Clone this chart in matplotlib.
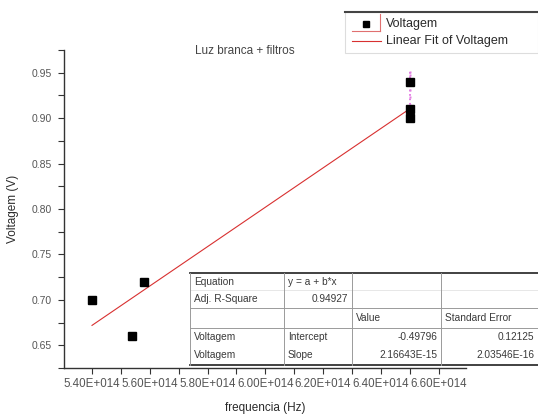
import matplotlib
matplotlib.use('Agg')
import matplotlib.pyplot as plt
from matplotlib.lines import Line2D
from matplotlib.ticker import MultipleLocator, FuncFormatter
import numpy as np

plt.rcParams['font.family'] = ['Liberation Sans', 'DejaVu Sans']

# data
freq = [5.40e14, 5.54e14, 5.58e14, 6.50e14, 6.50e14, 6.50e14]
volt = [0.70, 0.66, 0.72, 0.94, 0.91, 0.90]
# extra faint magenta points stacked on the last frequency
freq_pink = [6.50e14] * 5
volt_pink = [0.951, 0.947, 0.931, 0.923, 0.915]

intercept = -0.49796
slope = 2.16643e-15
adj_r2 = '0.94927'

table_rows = [
    ['Equation', 'y = a + b*x', '', ''],
    ['Adj. R-Square', adj_r2, '', ''],
    ['', '', 'Value', 'Standard Error'],
    ['Voltagem', 'Intercept', '-0.49796', '0.12125'],
    ['Voltagem', 'Slope', '2.16643E-15', '2.03546E-16'],
]

W, H = 538, 415
txt = '#2a2a2a'
fig = plt.figure(figsize=(W / 100, H / 100), dpi=100)
ax = fig.add_axes([64 / W, 1 - 368 / H, (466 - 64) / W, (368 - 50) / H])

ax.set_xlim(5.303e14, 6.695e14)
ax.set_ylim(0.625, 0.975)

# fit line over the data range
xf = np.array([min(freq), max(freq)])
ax.plot(xf, intercept + slope * xf, color='#d83030', lw=0.8, zorder=2)

ax.plot(freq_pink, volt_pink, ls=':', color='#e060e0', lw=1.2, marker='s',
        ms=2, mfc='#e080e0', mec='none', zorder=2)
ax.plot(freq, volt, ls='none', marker='s', ms=5.5, color='black', zorder=3)

for s in ['top', 'right']:
    ax.spines[s].set_visible(False)
for s in ['left', 'bottom']:
    ax.spines[s].set_color('#333333')
    ax.spines[s].set_linewidth(1.0)

ax.xaxis.set_major_locator(MultipleLocator(0.2e14))
ax.xaxis.set_minor_locator(MultipleLocator(0.1e14))
ax.yaxis.set_major_locator(MultipleLocator(0.05))
ax.yaxis.set_minor_locator(MultipleLocator(0.025))
ax.xaxis.set_major_formatter(FuncFormatter(lambda v, p: f'{v / 1e14:.2f}E+014'))
ax.yaxis.set_major_formatter(FuncFormatter(lambda v, p: f'{v:.2f}'))
ax.tick_params(which='both', direction='out', colors='#333333', labelcolor='#555555')
ax.tick_params(which='major', length=4, width=0.8, pad=3)
ax.tick_params(which='minor', length=4, width=0.8)
ax.tick_params(axis='x', labelsize=8.3)
ax.tick_params(axis='y', labelsize=7.5, pad=5)

ax.set_xlabel('frequencia (Hz)', fontsize=8.5, color=txt, labelpad=9)
ax.set_ylabel('Voltagem (V)', fontsize=8.5, color=txt, labelpad=9)
fig.text(245 / W, 1 - 51 / H, 'Luz branca + filtros', fontsize=8.5, color='#444444',
         ha='center', va='center')

# legend box (drawn in figure pixels)
def px(x, y):
    return x / W, 1 - y / H

lg = plt.Rectangle(px(345, 53), (538 - 345) / W, (53 - 12) / H, transform=fig.transFigure,
                   facecolor='white', edgecolor='#dddddd', lw=0.8, zorder=5)
fig.add_artist(lg)
fig.add_artist(Line2D([345 / W, 1], [1 - 12 / H] * 2, color='#444444', lw=1.5,
                      transform=fig.transFigure, zorder=6))
fig.add_artist(Line2D([px(352, 0)[0], px(380, 0)[0]], [px(0, 31)[1]] * 2, color='#e07070',
                      lw=0.8, transform=fig.transFigure, zorder=6))
fig.add_artist(Line2D([px(380, 0)[0]] * 2, [px(0, 14)[1], px(0, 31)[1]], color='#e07070',
                      lw=0.8, transform=fig.transFigure, zorder=6))
fig.add_artist(Line2D([px(366, 0)[0]], [px(0, 24)[1]], marker='s', ms=5, color='black',
                      ls='none', transform=fig.transFigure, zorder=6))
fig.add_artist(Line2D([px(352, 0)[0], px(381, 0)[0]], [px(0, 41)[1]] * 2, color='#d83030',
                      lw=0.8, transform=fig.transFigure, zorder=6))
fig.text(*px(386, 24), 'Voltagem', fontsize=9, color=txt, va='center', zorder=7)
fig.text(*px(386, 41), 'Linear Fit of Voltagem', fontsize=9, color=txt, va='center', zorder=7)

# fit result table
tx = [190, 284, 352, 441, 538]
tab = plt.Rectangle(px(190, 365), (538 - 190) / W, (365 - 273) / H, transform=fig.transFigure,
                    facecolor='white', edgecolor='none', zorder=4)
fig.add_artist(tab)
grid = '#9a9a9a'
for y, lw, c in [(273, 1.3, '#333333'), (290, 0.5, '#dddddd'), (308, 0.7, grid),
                 (328, 0.7, grid), (365, 1.3, '#333333')]:
    fig.add_artist(Line2D([tx[0] / W, tx[-1] / W], [1 - y / H] * 2, color=c, lw=lw,
                          transform=fig.transFigure, zorder=5))
for x in tx[:-1]:
    fig.add_artist(Line2D([x / W] * 2, [1 - 273 / H, 1 - 365 / H], color=grid, lw=0.7,
                          transform=fig.transFigure, zorder=5))
row_y = [282, 299, 318, 337, 355]
for r, row in enumerate(table_rows):
    for c, s in enumerate(row):
        if not s:
            continue
        right = (c >= 2 and r != 2) or (c == 1 and r == 1)
        x = tx[c + 1] - 4 if right else tx[c] + 4
        fig.text(x / W, 1 - row_y[r] / H, s, fontsize=7.3, color='#3a3a3a',
                 ha='right' if right else 'left', va='center', zorder=6)

fig.savefig('out.png', dpi=100)
